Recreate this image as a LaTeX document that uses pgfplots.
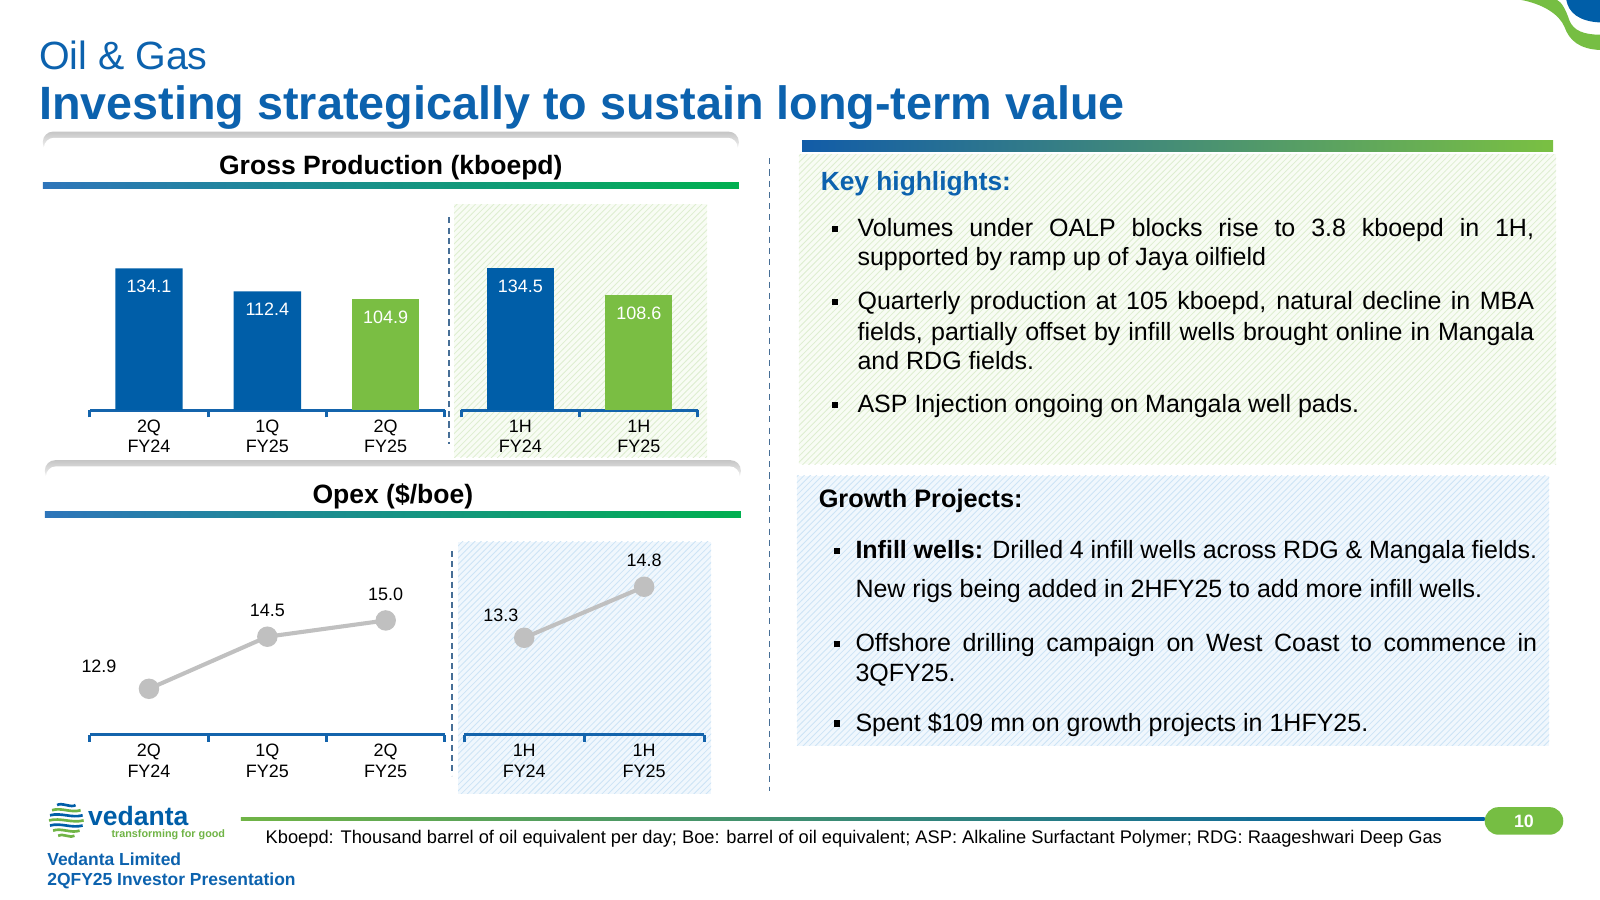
\documentclass[border=0pt]{standalone}
\usepackage{fontspec}
\setmainfont{Liberation Sans}
\usepackage{pgfplots}
\pgfplotsset{compat=1.18}
\usepackage{pgfplotstable}
\usetikzlibrary{patterns}

\definecolor{tblue}{RGB}{12,98,174}
\definecolor{barblue}{RGB}{0,94,168}
\definecolor{bargreen}{RGB}{122,190,67}
\definecolor{axblue}{RGB}{20,100,172}
\definecolor{lgray}{RGB}{192,192,192}
\definecolor{hgbase}{RGB}{248,252,244}
\definecolor{hgline}{RGB}{222,238,208}
\definecolor{hbbase}{RGB}{240,247,253}
\definecolor{hbline}{RGB}{205,228,246}
\definecolor{gbleft}{RGB}{46,117,186}
\definecolor{gbright}{RGB}{0,176,80}
\definecolor{rbleft}{RGB}{18,92,168}
\definecolor{rbright}{RGB}{122,192,66}
\definecolor{fgreen}{RGB}{112,180,70}
\definecolor{fblue}{RGB}{0,94,168}
\definecolor{pgreen}{RGB}{118,190,67}
\definecolor{sepcol}{RGB}{70,110,150}

\pgfplotstableread{
x y
0 134.1
1 112.4
}\barLblue
\pgfplotstableread{
x y
2 104.9
}\barLgreen
\pgfplotstableread{
x y
0 134.5
}\barRblue
\pgfplotstableread{
x y
1 108.6
}\barRgreen
\pgfplotstableread{
x y dx dy
0 12.9 -24.5 11
1 14.5 0 13
2 15.0 0 13
}\lineL
\pgfplotstableread{
x y dx dy
0 13.3 -11.5 11
1 14.8 0 13
}\lineR

\newcommand\fT{\fontsize{8.8pt}{10pt}\selectfont}
\newcommand\fB{\fontsize{12.25pt}{14.5pt}\selectfont}

\pgfplotsset{
  slidebase/.style={
    scale only axis, anchor=south west, clip=false,
    axis x line=bottom, axis y line=none,
    x axis line style={-, draw=axblue, line width=1.5pt},
    major tick length=0pt, minor tick length=3.5pt, tick align=outside,
    minor tick style={draw=axblue, line width=1.5pt},
    xticklabel style={align=center, font=\fT, text=black, inner sep=0pt, yshift=-4.5pt},
    /pgf/number format/fixed, /pgf/number format/fixed zerofill,
    /pgf/number format/precision=1, /pgf/number format/assume math mode=true,
  },
  barax/.style={slidebase, ymin=0, ymax=140, height=72.6pt,
    nodes near coords, nodes near coords style={anchor=center, yshift=-9pt, text=white, font=\fT}},
}

\begin{document}
\begin{tikzpicture}[x=0.5pt,y=0.5pt]
\useasboundingbox (0,0) rectangle (1568,-882);
\fill[white] (0,0) rectangle (1568,-882);

% top-right swoosh
\begin{scope}
\clip (0,0) rectangle (1568,-882);
\fill[pgreen] (1491,0) .. controls (1512,-4) and (1528,-14) .. (1533,-26) .. controls (1538,-40) and (1548,-48) .. (1568,-49) -- (1568,-34) .. controls (1552,-34) and (1542,-30) .. (1538,-20) .. controls (1534,-8) and (1530,-2) .. (1526,0) -- cycle;
\fill[barblue] (1535,0) .. controls (1537,-12) and (1547,-21) .. (1568,-22) -- (1568,0) -- cycle;
\end{scope}

% titles
\node[anchor=base west, inner sep=0, text=tblue, font=\fontsize{19.3pt}{23pt}\selectfont] at (38,-68) {Oil \& Gas};
\node[anchor=base west, inner sep=0, text=tblue, font=\fontsize{22.9pt}{27pt}\selectfont\bfseries] at (38,-117) {Investing strategically to sustain long-term value};

% header boxes
\shade[top color=gray!45, bottom color=white, rounded corners=5] (42,-129) rectangle (724,-150);
\fill[white, rounded corners=5] (43,-135) rectangle (723,-182);
\shade[left color=gbleft, right color=gbright] (42,-179) rectangle (724,-185);
\node[anchor=base, inner sep=0, font=\fontsize{13pt}{15pt}\selectfont\bfseries] at (383,-171) {Gross Production (kboepd)};

\shade[top color=gray!45, bottom color=white, rounded corners=5] (44,-451) rectangle (726,-472);
\fill[white, rounded corners=5] (45,-457) rectangle (725,-504);
\shade[left color=gbleft, right color=gbright] (44,-501) rectangle (726,-507);
\node[anchor=base, inner sep=0, font=\fontsize{13pt}{15pt}\selectfont\bfseries] at (385,-493) {Opex (\$/boe)};

% hatched backgrounds (charts)
\fill[hgbase] (445,-200) rectangle (693,-448);
\fill[pattern=north east lines, pattern color=hgline] (445,-200) rectangle (693,-448);
\fill[hbbase] (449,-531) rectangle (697,-778);
\fill[pattern=north east lines, pattern color=hbline] (449,-531) rectangle (697,-778);

% dashed separators
\draw[sepcol, line width=0.6pt, dash pattern=on 3pt off 2pt] (440,-213) -- (440,-435);
\draw[sepcol, line width=0.6pt, dash pattern=on 3pt off 2pt] (443,-540) -- (443,-760);
\draw[sepcol, line width=0.6pt, dash pattern=on 3pt off 2.5pt] (754,-155) -- (754,-775);

% ---- bar charts
\begin{axis}[barax, at={(44pt,-201pt)}, width=174pt, xmin=-0.5, xmax=2.5,
  xtick={0,1,2}, xticklabels={{2Q\\FY24},{1Q\\FY25},{2Q\\FY25}},
  minor xtick={-0.5,0.5,1.5,2.5}]
\addplot[ybar, bar width=33pt, bar shift=0pt, fill=barblue, draw=none] table {\barLblue};
\addplot[ybar, bar width=33pt, bar shift=0pt, fill=bargreen, draw=none] table {\barLgreen};
\end{axis}
\begin{axis}[barax, at={(226pt,-201pt)}, width=116pt, xmin=-0.5, xmax=1.5,
  xtick={0,1}, xticklabels={{1H\\FY24},{1H\\FY25}},
  minor xtick={-0.5,0.5,1.5}]
\addplot[ybar, bar width=33pt, bar shift=0pt, fill=barblue, draw=none] table {\barRblue};
\addplot[ybar, bar width=33pt, bar shift=0pt, fill=bargreen, draw=none] table {\barRgreen};
\end{axis}

% ---- line charts
\begin{axis}[slidebase, at={(44pt,-360pt)}, width=174pt, height=63.96pt,
  xmin=-0.5, xmax=2.5, ymin=11.49, ymax=15.5,
  xtick={0,1,2}, xticklabels={{2Q\\FY24},{1Q\\FY25},{2Q\\FY25}},
  minor xtick={-0.5,0.5,1.5,2.5}]
\addplot[draw=lgray, line width=2pt, mark=*, mark size=4pt, mark options={fill=lgray, draw=lgray},
  nodes near coords, visualization depends on={\thisrow{dx} \as \dx},
  visualization depends on={\thisrow{dy} \as \dy},
  nodes near coords style={anchor=center, xshift=\dx pt, yshift=\dy pt, text=black, font=\fT}]
  table[x=x, y=y] {\lineL};
\end{axis}
\begin{axis}[slidebase, at={(227.5pt,-360pt)}, width=117.5pt, height=84.15pt,
  xmin=-0.5, xmax=1.5, ymin=10.45, ymax=15.5,
  xtick={0,1}, xticklabels={{1H\\FY24},{1H\\FY25}},
  minor xtick={-0.5,0.5,1.5}]
\addplot[draw=lgray, line width=2pt, mark=*, mark size=4pt, mark options={fill=lgray, draw=lgray},
  nodes near coords, visualization depends on={\thisrow{dx} \as \dx},
  visualization depends on={\thisrow{dy} \as \dy},
  nodes near coords style={anchor=center, xshift=\dx pt, yshift=\dy pt, text=black, font=\fT}]
  table[x=x, y=y] {\lineR};
\end{axis}

% ---- right panel
\shade[left color=rbleft, right color=rbright] (786,-138) rectangle (1522,-148);
\fill[hgbase] (783,-151) rectangle (1525,-455);
\fill[pattern=north east lines, pattern color=hgline] (783,-151) rectangle (1525,-455);
\fill[hbbase] (781,-466) rectangle (1518,-731);
\fill[pattern=north east lines, pattern color=hbline] (781,-466) rectangle (1518,-731);

\node[anchor=base west, inner sep=0, text=tblue, font=\fontsize{12.9pt}{15pt}\selectfont\bfseries] at (804,-187) {Key highlights:};
\begin{scope}[every node/.style={anchor=base west, inner sep=0, font=\fB}]
\node at (840,-231.5) {\hbox to 331.5pt{Volumes under OALP blocks rise to 3.8 kboepd in 1H,}};
\node at (840,-260.5) {supported by ramp up of Jaya oilfield};
\node at (840,-303.5) {\hbox to 331.5pt{Quarterly production at 105 kboepd, natural decline in MBA}};
\node at (840,-333.5) {\hbox to 331.5pt{fields, partially offset by infill wells brought online in Mangala}};
\node at (840,-362.5) {and RDG fields.};
\node at (840,-404.5) {ASP Injection ongoing on Mangala well pads.};
\end{scope}
\foreach \c in {224,296,397} {\fill[black] (815,-\c+3) rectangle (821,-\c-3);}

\node[anchor=base west, inner sep=0, font=\fontsize{12.4pt}{15pt}\selectfont\bfseries] at (802,-497) {Growth Projects:};
\begin{scope}[every node/.style={anchor=base west, inner sep=0, font=\fB}]
\node at (838,-547.5) {\hbox to 334pt{\textbf{Infill wells:} Drilled 4 infill wells across RDG \& Mangala fields.}};
\node at (838,-585.5) {New rigs being added in 2HFY25 to add more infill wells.};
\node at (838,-638.5) {\hbox to 334pt{Offshore drilling campaign on West Coast to commence in}};
\node at (838,-667.5) {3QFY25.};
\node at (838,-716.5) {Spent \$109 mn on growth projects in 1HFY25.};
\end{scope}
\foreach \c in {540,631,709} {\fill[black] (817,-\c+3) rectangle (823,-\c-3);}

% ---- footer
\shade[left color=fgreen, right color=fblue] (236,-801.5) rectangle (1455,-804.5);
\fill[pgreen] (1468.5,-791) arc[start angle=90, end angle=270, radius=13.5] -- (1518.5,-818) arc[start angle=-90, end angle=90, radius=13.5] -- cycle;
\node[text=white, inner sep=0, font=\fontsize{8.75pt}{10pt}\selectfont\bfseries] at (1493.5,-804.5) {10};
\node[anchor=base west, inner sep=0, font=\fontsize{8.96pt}{10pt}\selectfont] at (260,-827) {Kboepd: Thousand barrel of oil equivalent per day; Boe: barrel of oil equivalent; ASP: Alkaline Surfactant Polymer; RDG: Raageshwari Deep Gas};

% logo
\foreach \yy/\hw/\col in {789/9/barblue, 794/14/fgreen, 799/16/barblue, 804/17/fgreen, 809/16/barblue, 814/13/fgreen, 819/8/fgreen} {
  \draw[\col, line width=1.3pt] (65-\hw,-\yy) .. controls (60,-\yy+3) and (70,-\yy-3) .. (65+\hw,-\yy);
}
\node[anchor=base west, inner sep=0, text=barblue, font=\fontsize{13pt}{15pt}\selectfont\bfseries] at (86,-809) {vedanta};
\node[anchor=base east, inner sep=0, text=fgreen, font=\fontsize{5.3pt}{6pt}\selectfont\bfseries] at (221,-821) {transforming for good};
\node[anchor=base west, inner sep=0, text=tblue, font=\fontsize{8.55pt}{10pt}\selectfont\bfseries] at (46,-848) {Vedanta Limited};
\node[anchor=base west, inner sep=0, text=tblue, font=\fontsize{8.55pt}{10pt}\selectfont\bfseries] at (46,-868) {2QFY25 Investor Presentation};
\end{tikzpicture}
\end{document}
